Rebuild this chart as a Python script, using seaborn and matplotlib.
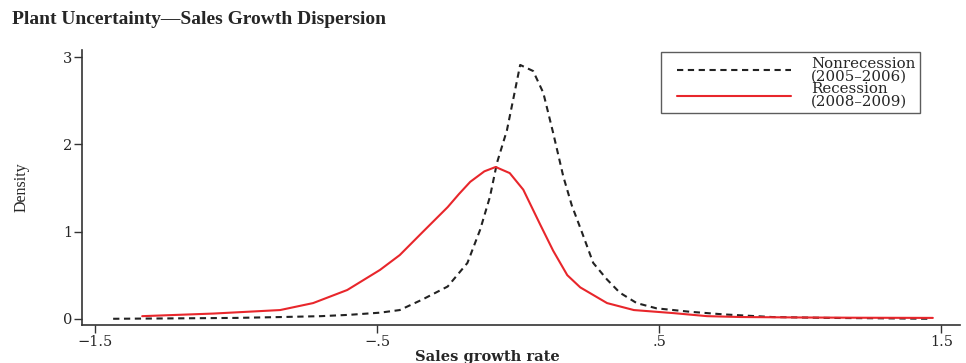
import numpy as np
import pandas as pd
import matplotlib
matplotlib.use("Agg")
import matplotlib.pyplot as plt
import seaborn as sns

# Nonrecession (2005-2006) density curve
nonrec_x = [-1.436, -1.2, -1.0, -0.84, -0.7, -0.6, -0.49, -0.42, -0.34, -0.25, -0.18,
            -0.135, -0.1, -0.075, -0.04, -0.018, 0.007, 0.053, 0.089, 0.124, 0.16,
            0.19, 0.225, 0.266, 0.315, 0.36, 0.42, 0.49, 0.61, 0.73, 0.9, 1.1, 1.3, 1.46]
nonrec_y = [0.00, 0.005, 0.01, 0.02, 0.03, 0.045, 0.07, 0.10, 0.22, 0.37, 0.64,
            1.02, 1.40, 1.79, 2.16, 2.51, 2.91, 2.84, 2.59, 2.13, 1.63,
            1.30, 1.00, 0.64, 0.45, 0.30, 0.18, 0.12, 0.08, 0.05, 0.02, 0.01, 0.005, 0.0]

# Recession (2008-2009) density curve
rec_x = [-1.333, -1.08, -0.844, -0.727, -0.606, -0.49, -0.42, -0.34, -0.25, -0.21,
         -0.17, -0.12, -0.08, -0.03, 0.018, 0.078, 0.124, 0.149, 0.174, 0.22, 0.315,
         0.41, 0.55, 0.67, 0.79, 1.0, 1.2, 1.47]
rec_y = [0.03, 0.06, 0.10, 0.18, 0.33, 0.56, 0.73, 0.99, 1.28, 1.43,
         1.57, 1.69, 1.74, 1.67, 1.48, 1.08, 0.78, 0.64, 0.50, 0.36, 0.18,
         0.10, 0.065, 0.03, 0.02, 0.015, 0.012, 0.01]

labels = ["Nonrecession\n(2005\u20132006)", "Recession\n(2008\u20132009)"]
xticks = [-1.5, -0.5, 0.5, 1.5]
xticklabels = ["\u22121.5", "\u2212.5", ".5", "1.5"]
yticks = [0, 1, 2, 3]

df = pd.concat([
    pd.DataFrame({"x": nonrec_x, "y": nonrec_y, "series": labels[0]}),
    pd.DataFrame({"x": rec_x, "y": rec_y, "series": labels[1]}),
])

sns.set_style("white")
plt.rcParams["font.family"] = ["Liberation Serif", "DejaVu Serif"]
WIDE = ["DejaVu Serif"]

fig = plt.figure(figsize=(9.66, 3.63), dpi=100)
ax = fig.add_axes([0.085, 0.105, 0.909, 0.757])

sns.lineplot(data=df, x="x", y="y", hue="series", style="series",
             palette={labels[0]: "#222222", labels[1]: "#e8262b"},
             dashes={labels[0]: (3, 2.2), labels[1]: ""},
             linewidth=1.5, sort=False, ax=ax)

ax.set_xlim(-1.546, 1.567)
ax.set_ylim(-0.07, 3.08)
ax.set_xticks(xticks)
ax.set_xticklabels(xticklabels, fontsize=10.5, family=WIDE)
ax.set_yticks(yticks)
ax.set_yticklabels([str(t) for t in yticks], fontsize=10.5, family=WIDE)
ax.tick_params(direction="out", length=6, width=1, color="#333333", pad=1,
               bottom=True, left=True)
for s in ["top", "right"]:
    ax.spines[s].set_visible(False)
for s in ["left", "bottom"]:
    ax.spines[s].set_color("#333333")
    ax.spines[s].set_linewidth(1.2)

ax.set_xlabel("Sales growth rate", fontsize=10.5, fontweight="bold", labelpad=0,
              family=WIDE)
ax.xaxis.set_label_coords(0.462, -0.09)
ax.set_ylabel("Density", fontsize=11.5, labelpad=24)

leg = ax.legend(loc="upper right", bbox_to_anchor=(0.954, 0.993),
                prop={"family": "DejaVu Serif", "size": 10.8},
                frameon=True, fancybox=False, handlelength=8.4, handletextpad=1.3,
                borderpad=0.3, labelspacing=-0.1, edgecolor="#333333",
                borderaxespad=0)
leg.get_frame().set_linewidth(1.0)
for t in leg.get_texts():
    t.set_linespacing(0.9)
for ln in leg.get_lines():
    xd = np.asarray(ln.get_xdata(), dtype=float)
    ln.set_xdata(np.linspace(xd[0] + 8, xd[-1], len(xd)))

fig.text(0.012, 0.945, "Plant Uncertainty\u2014Sales Growth Dispersion",
         fontsize=14, fontweight="bold", ha="left", va="center")

fig.savefig("out.png", dpi=100)
